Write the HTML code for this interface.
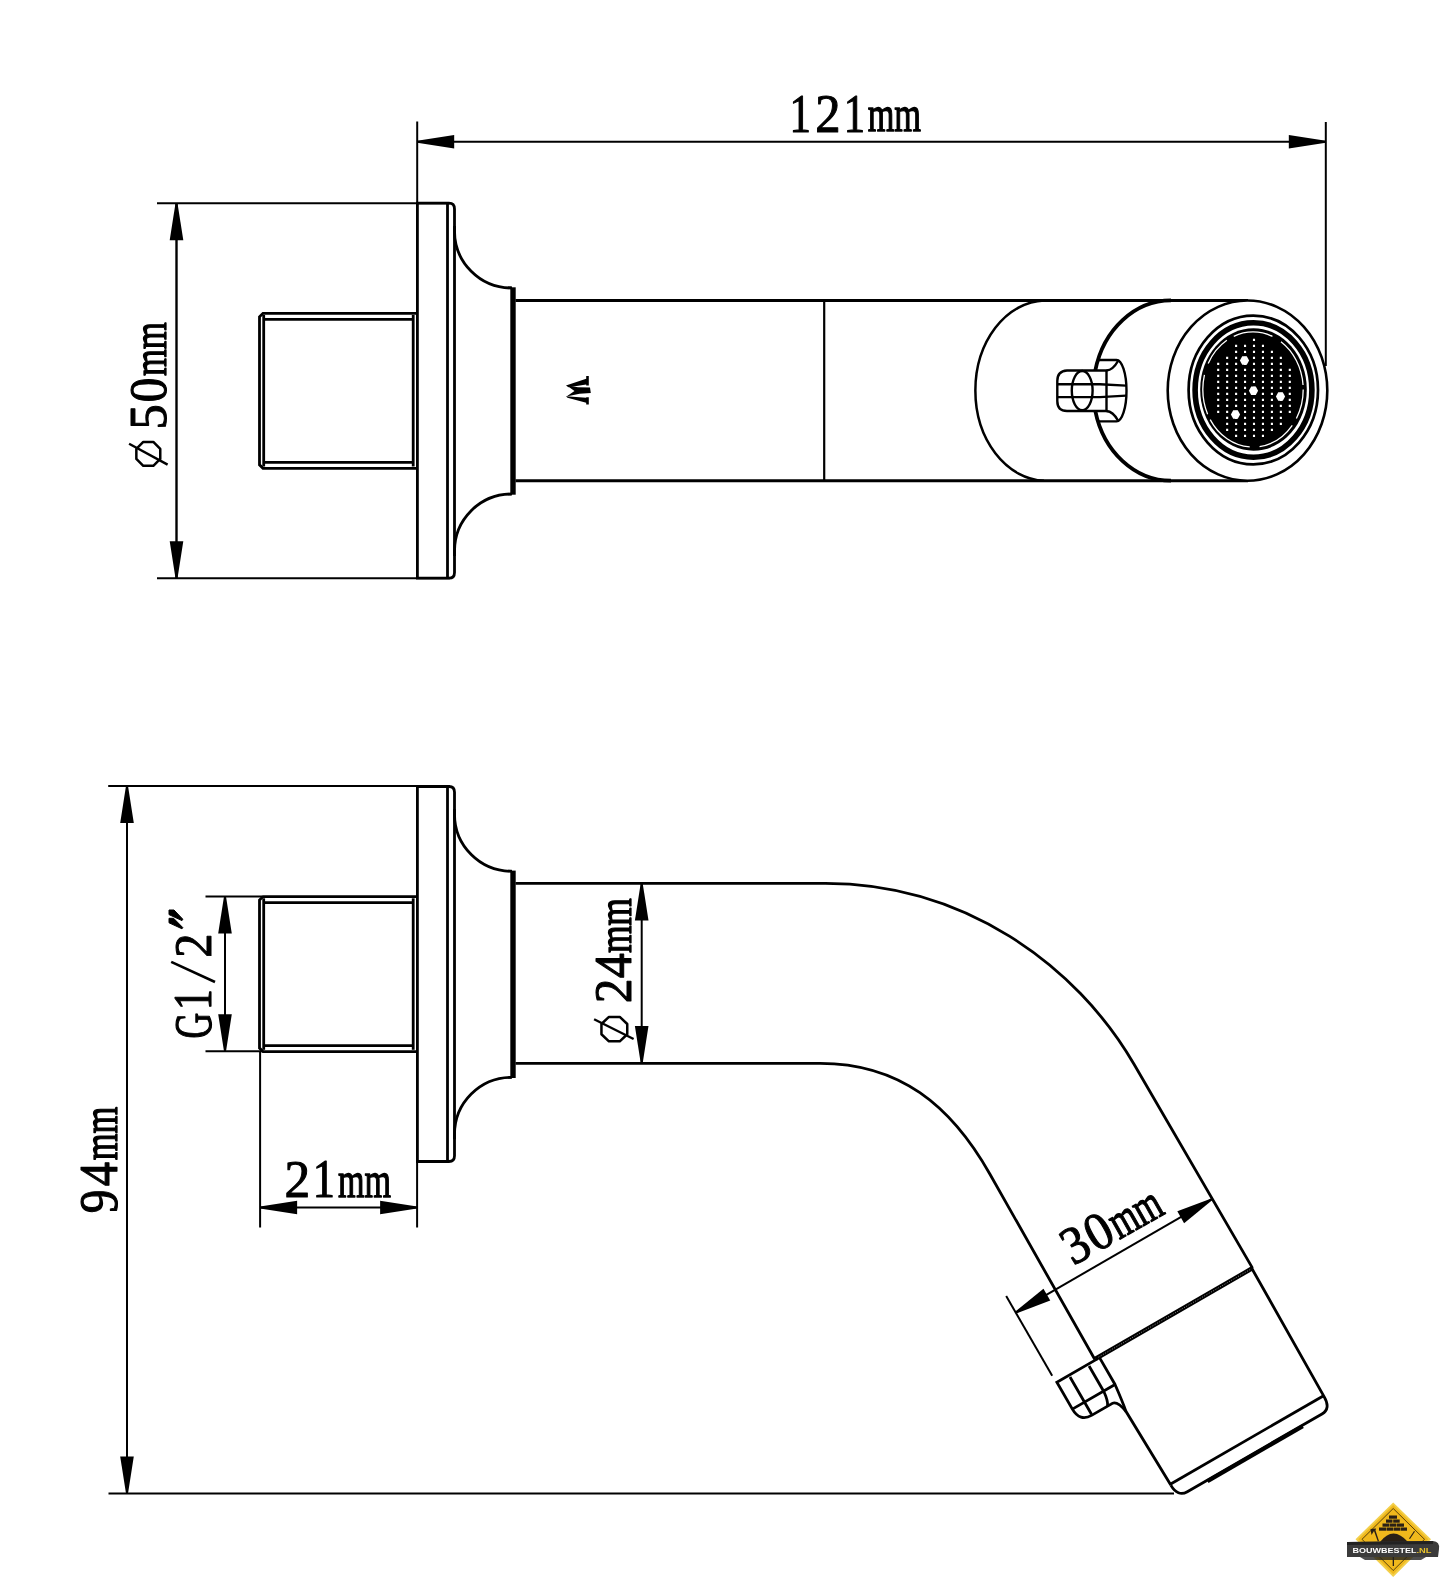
<!DOCTYPE html>
<html><head><meta charset="utf-8"><title>Spout drawing</title>
<style>
html,body{margin:0;padding:0;background:#fff;}
body{width:1444px;height:1578px;overflow:hidden;}
svg{display:block;will-change:transform;}
</style></head>
<body>
<svg width="1444" height="1578" viewBox="0 0 1444 1578">
<rect width="1444" height="1578" fill="#fff"/>
<g stroke-linecap="butt">
<line x1="417.20" y1="121.50" x2="417.20" y2="203.00" stroke="#000" stroke-width="2.0"/>
<line x1="1325.80" y1="122.00" x2="1325.80" y2="366.00" stroke="#000" stroke-width="2.0"/>
<line x1="417.20" y1="141.80" x2="1325.80" y2="141.80" stroke="#000" stroke-width="2.0"/>
<polygon points="417.20,140.80 454.20,135.00 454.20,148.60 417.20,142.80" fill="#000"/>
<polygon points="1325.80,142.80 1288.80,148.60 1288.80,135.00 1325.80,140.80" fill="#000"/>
<line x1="157.00" y1="203.20" x2="450.00" y2="203.20" stroke="#000" stroke-width="2.0"/>
<line x1="157.00" y1="578.20" x2="450.00" y2="578.20" stroke="#000" stroke-width="2.0"/>
<line x1="176.50" y1="203.20" x2="176.50" y2="578.20" stroke="#000" stroke-width="2.4"/>
<polygon points="177.50,203.20 183.30,240.20 169.70,240.20 175.50,203.20" fill="#000"/>
<polygon points="175.50,578.20 169.70,541.20 183.30,541.20 177.50,578.20" fill="#000"/>
<path d="M417.4,203.2 L449,203.2 Q454.5,203.2 454.5,209 L454.5,572.4 Q454.5,578.2 449,578.2 L417.4,578.2 Z" fill="none" stroke="#000" stroke-width="2.8"/>
<line x1="447.50" y1="203.20" x2="447.50" y2="578.20" stroke="#000" stroke-width="2.8"/>
<path d="M454.5,226 L454.5,231 A57,57 0 0 0 511.5,288" fill="none" stroke="#000" stroke-width="2.8"/>
<path d="M511.5,494 A57,57 0 0 0 454.5,551 L454.5,556" fill="none" stroke="#000" stroke-width="2.8"/>
<rect x="510.3" y="287.3" width="5.4" height="207.4" fill="#000"/>
<path d="M508,287.5 L512,287.5" stroke="#000" stroke-width="2"/>
<path d="M508,494.3 L512,494.3" stroke="#000" stroke-width="2"/>
<path d="M417,313.3 L263,313.3 L259.5,316.8 L259.5,464.8 L263,468.3 L417,468.3" fill="none" stroke="#000" stroke-width="2.8"/>
<line x1="263.50" y1="319.40" x2="413.20" y2="319.40" stroke="#000" stroke-width="2.8"/>
<line x1="263.50" y1="462.40" x2="413.20" y2="462.40" stroke="#000" stroke-width="2.8"/>
<line x1="263.70" y1="315.00" x2="263.70" y2="466.50" stroke="#000" stroke-width="2.8"/>
<line x1="413.20" y1="315.00" x2="413.20" y2="466.50" stroke="#000" stroke-width="2.8"/>
<line x1="515.50" y1="300.50" x2="1248.00" y2="300.50" stroke="#000" stroke-width="3.0"/>
<line x1="515.50" y1="480.70" x2="1248.00" y2="480.70" stroke="#000" stroke-width="3.0"/>
<line x1="824.20" y1="300.40" x2="824.20" y2="480.70" stroke="#000" stroke-width="2.2"/>
<g fill="#000"><polygon points="588.8,376 588.8,385.4 586.2,385.4 586.2,384.6 568.5,387.2 566,385.6 586.2,378.8 586.2,376"/><polygon points="566.5,385.3 578,387.2 590,387.6 590.8,393 579.5,393.8 566.5,396.6 574.5,391"/><polygon points="566,396.2 586.2,397.8 586.2,397.2 588.8,397.2 588.8,404.6 586.2,404.6 586.2,402.8 567.5,397.8"/></g>
<path d="M1044,300.4 A71,90.2 0 0 0 1044,480.7" fill="none" stroke="#000" stroke-width="2.5"/>
<path d="M1171,300.4 A77.7,90.2 0 0 0 1095.3,370.5 M1095.3,410.8 A77.7,90.2 0 0 0 1171,480.7" fill="none" stroke="#000" stroke-width="3.8"/>
<ellipse cx="1247.5" cy="390.6" rx="79.8" ry="90.1" fill="#fff" stroke="#000" stroke-width="2.6"/>
<ellipse cx="1253.3" cy="390" rx="64.7" ry="74.3" fill="none" stroke="#000" stroke-width="2.7"/>
<ellipse cx="1253.5" cy="390" rx="58.4" ry="67.2" fill="none" stroke="#000" stroke-width="5.6"/>
<ellipse cx="1253.5" cy="389.5" rx="53.3" ry="61.2" fill="#000"/>
<ellipse cx="1253" cy="389.5" rx="50.2" ry="57.6" fill="none" stroke="#fff" stroke-width="1.3" stroke-dasharray="30 8 40 10 50 6 40 12"/>
<path d="M1217.15,362.85h2.1v2.1h-2.1zM1217.15,368.85h2.1v2.1h-2.1zM1217.15,374.85h2.1v2.1h-2.1zM1217.15,380.85h2.1v2.1h-2.1zM1217.15,386.85h2.1v2.1h-2.1zM1217.15,392.85h2.1v2.1h-2.1zM1217.15,398.85h2.1v2.1h-2.1zM1217.15,404.85h2.1v2.1h-2.1zM1217.15,410.85h2.1v2.1h-2.1zM1226.10,356.85h2.1v2.1h-2.1zM1226.10,362.85h2.1v2.1h-2.1zM1226.10,368.85h2.1v2.1h-2.1zM1226.10,374.85h2.1v2.1h-2.1zM1226.10,380.85h2.1v2.1h-2.1zM1226.10,386.85h2.1v2.1h-2.1zM1226.10,392.85h2.1v2.1h-2.1zM1226.10,398.85h2.1v2.1h-2.1zM1226.10,404.85h2.1v2.1h-2.1zM1226.10,410.85h2.1v2.1h-2.1zM1226.10,416.85h2.1v2.1h-2.1zM1226.10,422.85h2.1v2.1h-2.1zM1226.10,428.85h2.1v2.1h-2.1zM1235.05,344.85h2.1v2.1h-2.1zM1235.05,350.85h2.1v2.1h-2.1zM1235.05,356.85h2.1v2.1h-2.1zM1235.05,362.85h2.1v2.1h-2.1zM1235.05,368.85h2.1v2.1h-2.1zM1235.05,374.85h2.1v2.1h-2.1zM1235.05,380.85h2.1v2.1h-2.1zM1235.05,386.85h2.1v2.1h-2.1zM1235.05,392.85h2.1v2.1h-2.1zM1235.05,398.85h2.1v2.1h-2.1zM1235.05,404.85h2.1v2.1h-2.1zM1235.05,410.85h2.1v2.1h-2.1zM1235.05,416.85h2.1v2.1h-2.1zM1235.05,422.85h2.1v2.1h-2.1zM1235.05,428.85h2.1v2.1h-2.1zM1235.05,434.85h2.1v2.1h-2.1zM1244.00,344.85h2.1v2.1h-2.1zM1244.00,350.85h2.1v2.1h-2.1zM1244.00,356.85h2.1v2.1h-2.1zM1244.00,362.85h2.1v2.1h-2.1zM1244.00,368.85h2.1v2.1h-2.1zM1244.00,374.85h2.1v2.1h-2.1zM1244.00,380.85h2.1v2.1h-2.1zM1244.00,386.85h2.1v2.1h-2.1zM1244.00,392.85h2.1v2.1h-2.1zM1244.00,398.85h2.1v2.1h-2.1zM1244.00,404.85h2.1v2.1h-2.1zM1244.00,410.85h2.1v2.1h-2.1zM1244.00,416.85h2.1v2.1h-2.1zM1244.00,422.85h2.1v2.1h-2.1zM1244.00,428.85h2.1v2.1h-2.1zM1244.00,434.85h2.1v2.1h-2.1zM1252.95,338.85h2.1v2.1h-2.1zM1252.95,344.85h2.1v2.1h-2.1zM1252.95,350.85h2.1v2.1h-2.1zM1252.95,356.85h2.1v2.1h-2.1zM1252.95,362.85h2.1v2.1h-2.1zM1252.95,368.85h2.1v2.1h-2.1zM1252.95,374.85h2.1v2.1h-2.1zM1252.95,380.85h2.1v2.1h-2.1zM1252.95,386.85h2.1v2.1h-2.1zM1252.95,392.85h2.1v2.1h-2.1zM1252.95,398.85h2.1v2.1h-2.1zM1252.95,404.85h2.1v2.1h-2.1zM1252.95,410.85h2.1v2.1h-2.1zM1252.95,416.85h2.1v2.1h-2.1zM1252.95,422.85h2.1v2.1h-2.1zM1252.95,428.85h2.1v2.1h-2.1zM1252.95,434.85h2.1v2.1h-2.1zM1261.90,344.85h2.1v2.1h-2.1zM1261.90,350.85h2.1v2.1h-2.1zM1261.90,356.85h2.1v2.1h-2.1zM1261.90,362.85h2.1v2.1h-2.1zM1261.90,368.85h2.1v2.1h-2.1zM1261.90,374.85h2.1v2.1h-2.1zM1261.90,380.85h2.1v2.1h-2.1zM1261.90,386.85h2.1v2.1h-2.1zM1261.90,392.85h2.1v2.1h-2.1zM1261.90,398.85h2.1v2.1h-2.1zM1261.90,404.85h2.1v2.1h-2.1zM1261.90,410.85h2.1v2.1h-2.1zM1261.90,416.85h2.1v2.1h-2.1zM1261.90,422.85h2.1v2.1h-2.1zM1261.90,428.85h2.1v2.1h-2.1zM1261.90,434.85h2.1v2.1h-2.1zM1270.85,350.85h2.1v2.1h-2.1zM1270.85,356.85h2.1v2.1h-2.1zM1270.85,362.85h2.1v2.1h-2.1zM1270.85,368.85h2.1v2.1h-2.1zM1270.85,374.85h2.1v2.1h-2.1zM1270.85,380.85h2.1v2.1h-2.1zM1270.85,386.85h2.1v2.1h-2.1zM1270.85,392.85h2.1v2.1h-2.1zM1270.85,398.85h2.1v2.1h-2.1zM1270.85,404.85h2.1v2.1h-2.1zM1270.85,410.85h2.1v2.1h-2.1zM1270.85,416.85h2.1v2.1h-2.1zM1270.85,422.85h2.1v2.1h-2.1zM1270.85,428.85h2.1v2.1h-2.1zM1279.80,356.85h2.1v2.1h-2.1zM1279.80,362.85h2.1v2.1h-2.1zM1279.80,368.85h2.1v2.1h-2.1zM1279.80,374.85h2.1v2.1h-2.1zM1279.80,380.85h2.1v2.1h-2.1zM1279.80,386.85h2.1v2.1h-2.1zM1279.80,392.85h2.1v2.1h-2.1zM1279.80,398.85h2.1v2.1h-2.1zM1279.80,404.85h2.1v2.1h-2.1zM1279.80,410.85h2.1v2.1h-2.1zM1279.80,416.85h2.1v2.1h-2.1zM1279.80,422.85h2.1v2.1h-2.1zM1288.75,368.85h2.1v2.1h-2.1zM1288.75,374.85h2.1v2.1h-2.1zM1288.75,380.85h2.1v2.1h-2.1zM1288.75,386.85h2.1v2.1h-2.1zM1288.75,392.85h2.1v2.1h-2.1zM1288.75,398.85h2.1v2.1h-2.1zM1288.75,404.85h2.1v2.1h-2.1zM1288.75,410.85h2.1v2.1h-2.1z" fill="#fff"/>
<polygon points="1249.1,360.5 1246.8,364.7 1242.2,364.7 1239.9,360.5 1242.2,356.3 1246.8,356.3" fill="#fff"/>
<polygon points="1258.1,390.7 1255.8,394.9 1251.2,394.9 1248.9,390.7 1251.2,386.5 1255.8,386.5" fill="#fff"/>
<polygon points="1285.1,396.5 1282.8,400.7 1278.2,400.7 1275.9,396.5 1278.2,392.3 1282.8,392.3" fill="#fff"/>
<polygon points="1240.1,414.5 1237.8,418.7 1233.2,418.7 1230.9,414.5 1233.2,410.3 1237.8,410.3" fill="#fff"/>
<path d="M1095,370.5 L1067,370.5 Q1057.3,371 1057.3,381 L1057.3,401 Q1057.3,411 1067,411 L1095,411" fill="none" stroke="#000" stroke-width="2.4"/>
<path d="M1095,370.5 L1106.5,370.5 L1106.5,411 L1095,411" fill="#fff" stroke="#000" stroke-width="2.4"/>
<ellipse cx="1082.2" cy="390.6" rx="10.4" ry="19.6" fill="none" stroke="#000" stroke-width="2.4"/>
<path d="M1057.3,384.3 L1100,384.3 L1126,385.6 M1057.3,397.1 L1100,397.1 L1126,395.6" fill="none" stroke="#000" stroke-width="2.4"/>
<path d="M1098.5,360 L1116.5,360 A10,30.7 0 0 1 1116.5,421.4 L1098.5,421.4" fill="none" stroke="#000" stroke-width="2.4"/>
<path d="M1118,361 Q1113,370 1106.5,370.5 M1106.5,411 Q1113,411.5 1118,420.5" fill="none" stroke="#000" stroke-width="2.4"/>
<line x1="108.20" y1="786.00" x2="450.00" y2="786.00" stroke="#000" stroke-width="2.0"/>
<line x1="108.50" y1="1493.60" x2="1174.00" y2="1493.60" stroke="#000" stroke-width="2.0"/>
<line x1="127.00" y1="786.00" x2="127.00" y2="1493.60" stroke="#000" stroke-width="2.0"/>
<polygon points="128.00,786.00 133.80,823.00 120.20,823.00 126.00,786.00" fill="#000"/>
<polygon points="126.00,1493.60 120.20,1456.60 133.80,1456.60 128.00,1493.60" fill="#000"/>
<path d="M417.4,786.5 L449,786.5 Q454.5,786.5 454.5,792.3 L454.5,1155.6999999999998 Q454.5,1161.5 449,1161.5 L417.4,1161.5 Z" fill="none" stroke="#000" stroke-width="2.8"/>
<line x1="447.50" y1="786.50" x2="447.50" y2="1161.50" stroke="#000" stroke-width="2.8"/>
<path d="M454.5,809.3 L454.5,814.3 A57,57 0 0 0 511.5,871.3" fill="none" stroke="#000" stroke-width="2.8"/>
<path d="M511.5,1077.3 A57,57 0 0 0 454.5,1134.3 L454.5,1139.3" fill="none" stroke="#000" stroke-width="2.8"/>
<rect x="510.3" y="870.5999999999999" width="5.4" height="207.4" fill="#000"/>
<path d="M508,870.8 L512,870.8" stroke="#000" stroke-width="2"/>
<path d="M508,1077.6 L512,1077.6" stroke="#000" stroke-width="2"/>
<path d="M417,896.5999999999999 L263,896.5999999999999 L259.5,900.0999999999999 L259.5,1048.1 L263,1051.6 L417,1051.6" fill="none" stroke="#000" stroke-width="2.8"/>
<line x1="263.50" y1="902.70" x2="413.20" y2="902.70" stroke="#000" stroke-width="2.8"/>
<line x1="263.50" y1="1045.70" x2="413.20" y2="1045.70" stroke="#000" stroke-width="2.8"/>
<line x1="263.70" y1="898.30" x2="263.70" y2="1049.80" stroke="#000" stroke-width="2.8"/>
<line x1="413.20" y1="898.30" x2="413.20" y2="1049.80" stroke="#000" stroke-width="2.8"/>
<line x1="205.50" y1="896.60" x2="262.00" y2="896.60" stroke="#000" stroke-width="2.0"/>
<line x1="205.50" y1="1051.20" x2="262.00" y2="1051.20" stroke="#000" stroke-width="2.0"/>
<line x1="225.00" y1="896.60" x2="225.00" y2="1051.20" stroke="#000" stroke-width="2.0"/>
<polygon points="226.00,896.60 231.80,933.60 218.20,933.60 224.00,896.60" fill="#000"/>
<polygon points="224.00,1051.20 218.20,1014.20 231.80,1014.20 226.00,1051.20" fill="#000"/>
<line x1="260.10" y1="1051.00" x2="260.10" y2="1227.50" stroke="#000" stroke-width="2.0"/>
<line x1="417.10" y1="1161.00" x2="417.10" y2="1227.50" stroke="#000" stroke-width="2.0"/>
<line x1="260.10" y1="1207.50" x2="417.10" y2="1207.50" stroke="#000" stroke-width="2.0"/>
<polygon points="260.10,1206.50 297.10,1200.70 297.10,1214.30 260.10,1208.50" fill="#000"/>
<polygon points="417.10,1208.50 380.10,1214.30 380.10,1200.70 417.10,1206.50" fill="#000"/>
<path d="M515.5,883.4 L825.39,883.4 C962.87,883.4 1075.71,963.93 1133.91,1064.05 L1252.53,1268.15" fill="none" stroke="#000" stroke-width="2.8"/>
<path d="M515.5,1063.3 L820.12,1063.3 C899.05,1063.3 950.6,1104.73 989.84,1174.01 L1094.73,1359.26" fill="none" stroke="#000" stroke-width="2.8"/>
<line x1="641.70" y1="883.70" x2="641.70" y2="1063.20" stroke="#000" stroke-width="2.0"/>
<polygon points="642.70,883.50 648.50,920.50 634.90,920.50 640.70,883.50" fill="#000"/>
<polygon points="640.70,1063.00 634.90,1026.00 648.50,1026.00 642.70,1063.00" fill="#000"/>
<path d="M1252.75,1268.03 L1095.57,1358.78" fill="none" stroke="#000" stroke-width="4.4"/>
<path d="M1250.15,1269.53 L1098.17,1357.28" fill="none" stroke="#fff" stroke-width="0.7" stroke-dasharray="1 1.6" opacity="0.8"/>
<path d="M1251.88,1268.53 L1324.09,1396.58 Q1331.09,1408.71 1321.99,1413.96 L1187.33,1491.71 Q1177.80,1497.21 1170.80,1485.08" fill="none" stroke="#000" stroke-width="2.8"/>
<path d="M1323.59,1395.72 L1170.30,1484.22" fill="none" stroke="#000" stroke-width="2.8"/>
<path d="M1302.79,1426.20 L1207.53,1481.20" fill="none" stroke="#000" stroke-width="4"/>
<path d="M1099.53,1357.64 L1115.03,1384.49 Q1122.30,1401.08 1126.07,1411.60 L1170.80,1485.08" fill="none" stroke="#000" stroke-width="2.8"/>
<path d="M1096.93,1359.14 L1056.88,1382.27 L1072.38,1409.11 Q1079.88,1422.10 1092.00,1415.10 L1111.06,1404.10 Q1116.62,1399.74 1126.07,1411.60" fill="none" stroke="#000" stroke-width="2.8"/>
<path d="M1070.00,1377.00 L1091.50,1414.24 M1089.06,1366.00 L1104.06,1391.98 Q1108.19,1401.14 1107.59,1406.10 M1072.38,1409.11 L1114.17,1384.99" fill="none" stroke="#000" stroke-width="2.8"/>
<line x1="1006.19" y1="1296.06" x2="1052.19" y2="1375.74" stroke="#000" stroke-width="2.0"/>
<line x1="1015.69" y1="1312.52" x2="1211.88" y2="1199.24" stroke="#000" stroke-width="2.0"/>
<polygon points="1015.19,1311.65 1043.46,1288.63 1050.26,1300.41 1016.19,1313.39" fill="#000"/>
<polygon points="1212.38,1200.11 1184.11,1223.13 1177.31,1211.36 1211.38,1198.38" fill="#000"/>
</g>
<g font-family="Liberation Serif, serif" font-size="56.0" fill="#000" stroke="#000" stroke-linejoin="round">
<g><text transform="translate(789.53,131.50) scale(0.7659,0.9738)" stroke-width="1.0" vector-effect="non-scaling-stroke">1</text><text transform="translate(815.17,131.50) scale(0.9043,0.9709)" stroke-width="1.0" vector-effect="non-scaling-stroke">2</text><text transform="translate(843.86,131.50) scale(0.7608,0.9738)" stroke-width="1.0" vector-effect="non-scaling-stroke">1</text><text transform="translate(867.83,131.45) scale(0.6119,0.9058)" stroke-width="1.1" vector-effect="non-scaling-stroke">m</text><text transform="translate(894.33,131.45) scale(0.6143,0.9058)" stroke-width="1.1" vector-effect="non-scaling-stroke">m</text></g>
<g transform="translate(166.6,467.1) rotate(-90)"><path d="M8.18,-30.25 L18.22,-30.25 L25.15,-23.32 L25.15,-13.28 L18.22,-6.35 L8.18,-6.35 L1.25,-13.28 L1.25,-23.32Z" fill="none" stroke="#000" stroke-width="2.5"/><line x1="2.5" y1="1.0" x2="23.3" y2="-37.5" stroke="#000" stroke-width="2.4"/><text transform="translate(37.67,-0.50) scale(0.8999,0.9545)" stroke-width="1.0" vector-effect="non-scaling-stroke">5</text><text transform="translate(64.59,-0.50) scale(0.8932,0.9398)" stroke-width="1.0" vector-effect="non-scaling-stroke">0</text><text transform="translate(91.12,-0.55) scale(0.6192,0.8830)" stroke-width="1.1" vector-effect="non-scaling-stroke">m</text><text transform="translate(117.92,-0.55) scale(0.6216,0.8830)" stroke-width="1.1" vector-effect="non-scaling-stroke">m</text></g>
<g transform="translate(117.9,1212.2) rotate(-90)"><text transform="translate(-1.03,-0.50) scale(0.8494,0.9655)" stroke-width="1.0" vector-effect="non-scaling-stroke">9</text><text transform="translate(25.85,-0.50) scale(0.8643,0.9713)" stroke-width="1.0" vector-effect="non-scaling-stroke">4</text><text transform="translate(51.93,-0.55) scale(0.6155,0.8944)" stroke-width="1.1" vector-effect="non-scaling-stroke">m</text><text transform="translate(78.58,-0.55) scale(0.6155,0.8944)" stroke-width="1.1" vector-effect="non-scaling-stroke">m</text></g>
<g transform="translate(211.7,1037.5) rotate(-90)"><text transform="translate(-0.96,-0.50) scale(0.6375,0.9601)" stroke-width="1.0" vector-effect="non-scaling-stroke">G</text><text transform="translate(27.56,-0.50) scale(0.7406,0.9630)" stroke-width="1.0" vector-effect="non-scaling-stroke">1</text><line x1="55.5" y1="3.3" x2="75.6" y2="-40.5" stroke="#000" stroke-width="2.6"/><text transform="translate(79.67,-0.50) scale(0.8642,0.9601)" stroke-width="1.0" vector-effect="non-scaling-stroke">2</text></g>
<polygon points="169,910 174,910 182.8,919.2 182,920.6 169,914.6"/><polygon points="169,918.3 173.6,918.3 182.8,927.6 182,928.8 169,922.8"/>
<g transform="translate(631.6,1042.6) rotate(-90)"><path d="M8.33,-30.15 L18.57,-30.15 L25.65,-22.67 L25.65,-11.83 L18.57,-4.35 L8.33,-4.35 L1.25,-11.83 L1.25,-22.67Z" fill="none" stroke="#000" stroke-width="2.5"/><line x1="3.6" y1="2.0" x2="23.3" y2="-37.5" stroke="#000" stroke-width="2.4"/><text transform="translate(39.43,-0.50) scale(0.8820,0.9440)" stroke-width="1.0" vector-effect="non-scaling-stroke">2</text><text transform="translate(64.42,-0.50) scale(0.8951,0.9496)" stroke-width="1.0" vector-effect="non-scaling-stroke">4</text><text transform="translate(89.51,-0.55) scale(0.6336,0.8830)" stroke-width="1.1" vector-effect="non-scaling-stroke">m</text><text transform="translate(116.91,-0.55) scale(0.6336,0.8830)" stroke-width="1.1" vector-effect="non-scaling-stroke">m</text></g>
<g><text transform="translate(284.44,1197.30) scale(0.9176,0.9601)" stroke-width="1.0" vector-effect="non-scaling-stroke">2</text><text transform="translate(312.81,1197.30) scale(0.7913,0.9630)" stroke-width="1.0" vector-effect="non-scaling-stroke">1</text><text transform="translate(338.03,1197.25) scale(0.6095,0.8868)" stroke-width="1.1" vector-effect="non-scaling-stroke">m</text><text transform="translate(364.43,1197.25) scale(0.6095,0.8868)" stroke-width="1.1" vector-effect="non-scaling-stroke">m</text></g>
<g transform="translate(1075.2,1265.4) rotate(-29.58)"><text transform="translate(-1.85,-0.50) scale(0.8775,0.9574)" stroke-width="1.0" vector-effect="non-scaling-stroke">3</text><text transform="translate(24.49,-0.50) scale(0.8932,0.9532)" stroke-width="1.0" vector-effect="non-scaling-stroke">0</text><text transform="translate(51.02,-0.55) scale(0.6216,0.8868)" stroke-width="1.1" vector-effect="non-scaling-stroke">m</text><text transform="translate(77.92,-0.55) scale(0.6216,0.8868)" stroke-width="1.1" vector-effect="non-scaling-stroke">m</text></g>
</g>

<g>
<polygon points="1393.2,1502.5 1431,1539.3 1393.2,1577 1355.5,1539.3" fill="#f3cf4a"/>
<polygon points="1393.2,1505 1428.2,1539.3 1393.2,1574.3 1358.3,1539.3" fill="#f0b81c"/>
<polygon points="1393.2,1508.5 1424.5,1539.3 1393.2,1570.5 1362,1539.3" fill="none" stroke="#4a3508" stroke-width="0.9"/>
<g fill="#2a2016">
<rect x="1389" y="1515.5" width="8" height="3.2"/>
<rect x="1386" y="1519.5" width="6.5" height="3.2"/><rect x="1393.2" y="1519.5" width="6.5" height="3.2"/>
<rect x="1382.5" y="1523.5" width="7" height="3.2"/><rect x="1390" y="1523.5" width="6.5" height="3.2"/><rect x="1397" y="1523.5" width="7" height="3.2"/>
<rect x="1379" y="1527.5" width="7" height="3.2"/><rect x="1386.5" y="1527.5" width="6.5" height="3.2"/><rect x="1393.5" y="1527.5" width="6.5" height="3.2"/><rect x="1400.5" y="1527.5" width="6.5" height="3.2"/>
<path d="M1380,1542 Q1393,1525 1408,1542 Z"/>
<path d="M1370.5,1529 L1376,1528.5 L1375.5,1530.5 L1379,1541 L1377.8,1541.5 L1374,1531 L1371.5,1535 Z"/>
<path d="M1414,1531 L1415,1531.5 L1410,1539 L1409,1538.5 Z"/>
<rect x="1392.7" y="1557" width="1.3" height="9"/>
</g>
<path d="M1347,1542 L1433,1541 Q1440,1541.5 1439,1549 L1438,1557 L1347,1557 Z" fill="#3b3b3b"/>
<path d="M1347,1542 L1433,1541 L1433,1544 L1347,1545 Z" fill="#222"/>
<path d="M1360,1557 L1426,1557 L1421,1560 L1365,1560 Z" fill="#222" opacity="0.8"/>
<text x="1352.5" y="1553" font-family="Liberation Sans, sans-serif" font-weight="bold" font-size="7.4" fill="#fff" textLength="64" lengthAdjust="spacingAndGlyphs">BOUWBESTEL</text>
<text x="1416.5" y="1553" font-family="Liberation Sans, sans-serif" font-weight="bold" font-size="7.4" fill="#e8c22a" textLength="15" lengthAdjust="spacingAndGlyphs">.NL</text>
</g>

</svg>
</body></html>
